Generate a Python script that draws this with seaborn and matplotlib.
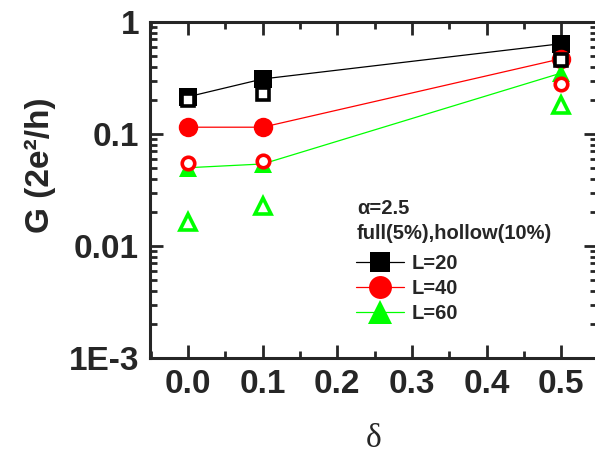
import matplotlib
matplotlib.use("Agg")
import matplotlib.pyplot as plt
from matplotlib.lines import Line2D
from matplotlib.ticker import FixedLocator, FixedFormatter, MultipleLocator, LogLocator, NullFormatter
import seaborn as sns
import pandas as pd

# ---- data ----
delta = [0.0, 0.1, 0.5]
series_labels = ["L=20", "L=40", "L=60"]
g_full_L20 = [0.215, 0.31, 0.64]
g_full_L40 = [0.115, 0.115, 0.47]
g_full_L60 = [0.050, 0.054, 0.35]
g_hollow_L20 = [0.200, 0.228, 0.46]
g_hollow_L40 = [0.055, 0.0576, 0.282]
g_hollow_L60 = [0.0164, 0.0228, 0.18]
ytick_vals = [1e-3, 1e-2, 1e-1, 1]
ytick_labels = ["1E-3", "0.01", "0.1", "1"]
xtick_vals = [0.0, 0.1, 0.2, 0.3, 0.4, 0.5]
xtick_labels = ["0.0", "0.1", "0.2", "0.3", "0.4", "0.5"]
note_lines = ["α=2.5", "full(5%),hollow(10%)"]

sns.set_style("ticks")
plt.rcParams["font.family"] = ["Liberation Sans", "DejaVu Sans"]
plt.rcParams["font.weight"] = "bold"

colors = ["#000000", "#ff0000", "#00ff00"]
markers = ["s", "o", "^"]
full_ms = [13, 14, 13.5]
hollow_ms = [8.5, 9, 12]

fig = plt.figure(figsize=(5.95, 4.59), dpi=100)
ax = fig.add_axes([150 / 595, 1 - 358 / 459, 447 / 595, 336 / 459])

fulls = [g_full_L20, g_full_L40, g_full_L60]
hollows = [g_hollow_L20, g_hollow_L40, g_hollow_L60]

for lab, vals, c, m, ms in zip(series_labels, fulls, colors, markers, full_ms):
    df = pd.DataFrame({"delta": delta, "G": vals})
    sns.lineplot(data=df, x="delta", y="G", ax=ax, color=c, marker=m,
                 markersize=ms, markeredgecolor=c, markeredgewidth=0,
                 linewidth=0.9, legend=False)

for lab, vals, c, m, ms in zip(series_labels, hollows, colors, markers, hollow_ms):
    df = pd.DataFrame({"delta": delta, "G": vals})
    sns.lineplot(data=df, x="delta", y="G", ax=ax, color=c, marker=m,
                 markersize=ms, markerfacecolor="white", markeredgecolor=c,
                 markeredgewidth=2.6, linestyle="none", legend=False)

ax.set_yscale("log")
ax.set_ylim(1e-3, 1)
ax.set_xlim(-0.051, 0.548)
ax.yaxis.set_major_locator(FixedLocator(ytick_vals))
ax.yaxis.set_major_formatter(FixedFormatter(ytick_labels))
ax.yaxis.set_minor_locator(LogLocator(base=10, subs=range(2, 10)))
ax.yaxis.set_minor_formatter(NullFormatter())
ax.xaxis.set_major_locator(FixedLocator(xtick_vals))
ax.xaxis.set_major_formatter(FixedFormatter(xtick_labels))
ax.xaxis.set_minor_locator(MultipleLocator(0.05))

for sp in ax.spines.values():
    sp.set_linewidth(2.2)
    sp.set_visible(True)
ax.tick_params(which="both", direction="in", top=True, right=True, width=2)
ax.tick_params(which="major", length=9.5, labelsize=24, pad=8)
ax.tick_params(which="minor", length=5)
for t in ax.get_xticklabels() + ax.get_yticklabels():
    t.set_fontweight("bold")

ax.set_xlabel("δ", fontsize=24, fontweight="normal", family=["Liberation Serif", "DejaVu Serif"])
ax.xaxis.set_label_coords(0.5, -0.195)
ax.set_ylabel("G (2e²/h)", fontsize=24, fontweight="bold")
ax.yaxis.set_label_coords(-0.21, 0.574)

# annotation lines above legend
fig.text(357 / 595, 1 - 208 / 459, note_lines[0], fontsize=14.5, fontweight="bold",
         ha="left", va="center")
fig.text(357 / 595, 1 - 233 / 459, note_lines[1], fontsize=14.5, fontweight="bold",
         ha="left", va="center")

handles = [Line2D([], [], color=c, marker=m, markersize=ms, markeredgewidth=0, linewidth=0.9)
           for c, m, ms in zip(colors, markers, [15, 16.5, 17.5])]
leg = ax.legend(handles, series_labels,
                loc="upper left", bbox_to_anchor=(356 / 595, 1 - 254 / 459),
                bbox_transform=fig.transFigure, frameon=False,
                prop={"size": 14.5, "weight": "bold"},
                handlelength=2.4, handletextpad=0.35, labelspacing=0.3,
                borderpad=0, borderaxespad=0)

fig.savefig("out.png", dpi=100)
